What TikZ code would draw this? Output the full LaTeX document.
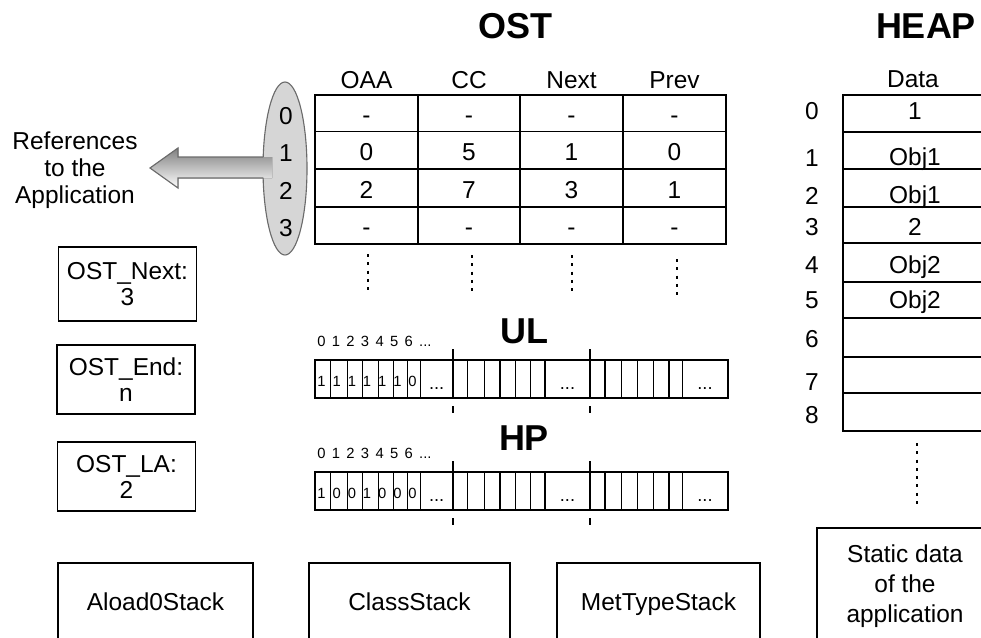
\documentclass[tikz,border=0pt]{standalone}
\usepackage{fontspec}
\setmainfont{Liberation Sans}
\usepackage{tikz}
\usetikzlibrary{shapes.geometric}
\definecolor{shade}{gray}{0.84}
\definecolor{edge}{gray}{0.42}
\newcommand\widesp{\spaceskip=0.43em\relax}
\tikzset{
  txt/.style={font=\fontsize{17.4}{19}\selectfont, inner sep=0pt},
  cell/.style={txt, anchor=base},
  bigttl/.style={font=\fontsize{25.6}{28}\selectfont\bfseries, inner sep=0pt, anchor=base},
  idx/.style={font=\fontsize{10.5}{12}\selectfont, inner sep=0pt, anchor=base west},
  bitval/.style={font=\fontsize{10.5}{12}\selectfont, inner sep=0pt},
  varbox/.style={draw, line width=1.1pt, align=center, minimum width=3.45cm, font=\fontsize{17.4}{18.5}\selectfont, inner sep=0pt},
  stackbox/.style={draw, line width=1.1pt, minimum height=1.95cm, font=\fontsize{17.4}{19}\selectfont, text height=12.5pt, text depth=0pt},
  tabline/.style={line width=1.2pt},
  bitline/.style={line width=0.8pt},
  sepline/.style={line width=1.4pt},
  dotcol/.style={line width=2.1pt, dash pattern=on 2.1pt off 3.8pt}
}
\begin{document}
\begin{tikzpicture}[x=0.025cm, y=-0.025cm]
\useasboundingbox (0,0) rectangle (981,638);
\clip (0,0) rectangle (981,638);
% Titles
\node[bigttl] (ostttl) at (515,38) {OST};
\node[bigttl] (heapttl) at (926,38) {HEAP};
\node[bigttl] (ulttl) at (524,343) {UL};
\node[bigttl] (hpttl) at (524,450) {HP};

% Index ellipse with the arrow to the application
\node[ellipse, draw=edge, fill=shade, line width=0.8pt, minimum width=1.1cm, minimum height=4.325cm, inner sep=0pt] (idxell) at (285,168.5) {};
\coordinate (reftip) at (150,168);
\fill[shade] (272,157) -- (178,157) -- (178,148) -- (reftip) -- (178,188) -- (178,178) -- (272,178) -- cycle;
\draw[edge, line width=0.8pt] (263.3,157) -- (178,157) -- (178,148) -- (reftip) -- (178,188) -- (178,178) -- (263.3,178);
\foreach \i/\y in {0/124,1/161,2/199,3/236}
  \node[cell] (ell\i) at (286,\y) {\i};
\node[txt, align=center, font=\fontsize{17.4}{19.2}\selectfont] (reftxt) at (75,170) {References\\to the\\Application};

% OST table
\draw[tabline] (315,95) rectangle (726,244);
\foreach \y in {131.5,169,207} \draw[tabline] (315,\y) -- (726,\y);
\foreach \x in {418,520,623} \draw[tabline] (\x,95) -- (\x,244);
\foreach \h/\x in {OAA/366.5,CC/469,Next/571.5,Prev/674.5}
  \node[cell] (hd\h) at (\x,88) {\h};
\foreach \a/\b/\c/\d [count=\i from 0] in {-/-/-/-,0/5/1/0,2/7/3/1,-/-/-/-} {
  \node[cell] (oaa\i) at (366.5,{123+37.5*\i}) {\a};
  \node[cell] (cc\i) at (469,{123+37.5*\i}) {\b};
  \node[cell] (next\i) at (571.5,{123+37.5*\i}) {\c};
  \node[cell] (prev\i) at (674.5,{123+37.5*\i}) {\d};
}
\foreach \x/\ya in {368/254,472/255,572/255,677/259}
  \draw[dotcol] (\x,\ya) -- (\x,{\ya+36});

% OST registers
\node[varbox, minimum height=1.85cm] (ostnext) at (127.5,284) {OST\_Next:\\3};
\node[varbox, minimum height=1.725cm] (ostend) at (126,379.5) {OST\_End:\\n};
\node[varbox, minimum height=1.725cm] (ostla) at (126.5,476.5) {OST\_LA:\\2};

% UL and HP bit arrays
\foreach \ty/\nm/\vals in {360/ul/{1,1,1,1,1,1,0},472/hp/{1,0,0,1,0,0,0}} {
  \draw[bitline] (315,\ty) rectangle (728,{\ty+38});
  \foreach \x in {330.7,347.3,362.7,378.3,393.3,407.3,420.7,467.7,484.3,500,515.7,530.7,545,605,621.7,637.7,653.3,669,682.3}
    \draw[bitline] (\x,\ty) -- (\x,{\ty+38});
  \foreach \x in {452.7,590} {
    \draw[sepline] (\x,{\ty-11}) -- (\x,{\ty+38});
    \draw[sepline] (\x,{\ty+46}) -- (\x,{\ty+53});
  }
  \foreach \v [count=\k] in \vals
    \node[bitval] (\nm b\k) at ({321.5+15.18*(\k-1)},{\ty+21.5}) {\v};
  \foreach \x [count=\k] in {436.7,567.5,705}
    \node[bitval, anchor=base, font=\fontsize{13}{14}\selectfont] (\nm d\k) at (\x,{\ty+29}) {...};
  \node[idx] (\nm idx) at (317,{\ty-14}) {\widesp 0 1 2 3 4 5 6 ...};
}

% HEAP
\node[cell] (datahd) at (913,87) {Data};
\draw[tabline] (1000,95) -- (843,95) -- (843,431) -- (1000,431);
\foreach \y in {132,169,207,243,282,318,357,393} \draw[tabline] (843,\y) -- (1000,\y);
\foreach \i/\y in {0/119,1/166,2/204,3/235,4/273,5/308,6/347,7/390,8/423}
  \node[cell] (hix\i) at (812,\y) {\i};
\foreach \i/\y/\v in {0/119/1,1/165/Obj1,2/203/Obj1,3/235/2,4/273/Obj2,5/308/Obj2}
  \node[cell] (hval\i) at (915,\y) {\v};
\draw[dotcol] (917,443) -- (917,508);
\node[draw, line width=1.1pt, txt, align=center, font=\fontsize{17.4}{21.3}\selectfont, minimum width=4.4cm, minimum height=2.925cm] (staticdata) at (905,586.5) {Static data\\of the\\application};

% Stacks
\node[stackbox, minimum width=4.875cm] (aload) at (155.5,602) {Aload0Stack};
\node[stackbox, minimum width=5.025cm] (classstk) at (409.5,602) {ClassStack};
\node[stackbox, minimum width=5.075cm] (mettype) at (658.5,602) {MetTypeStack};
\end{tikzpicture}
\end{document}
